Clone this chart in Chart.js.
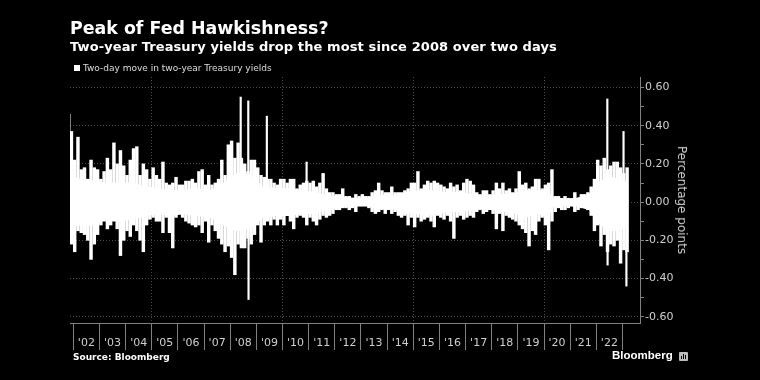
<!DOCTYPE html>
<html><head><meta charset="utf-8">
<script src="https://cdn.jsdelivr.net/npm/chart.js@4.4.1/dist/chart.umd.min.js"></script>
<style>
html,body{margin:0;padding:0;background:#000;}
#wrap{position:relative;width:760px;height:380px;background:#000;overflow:hidden;font-family:"DejaVu Sans",sans-serif;}
canvas{position:absolute;left:0;top:0;}
.t{position:absolute;white-space:nowrap;line-height:1;}
</style></head><body>
<div id="wrap">
<canvas id="c" width="760" height="380"></canvas>
<div class="t" style="left:70px;top:19.6px;font-size:17.4px;font-weight:bold;color:#fff;">Peak of Fed Hawkishness?</div>
<div class="t" style="left:70px;top:39.7px;font-size:13px;letter-spacing:0.1px;font-weight:bold;color:#fff;">Two-year Treasury yields drop the most since 2008 over two days</div>
<div style="position:absolute;left:74px;top:65px;width:6px;height:6px;background:#fff;"></div>
<div class="t" style="left:83px;top:63.5px;font-size:9px;color:#ddd;">Two-day move in two-year Treasury yields</div>
<div class="t" style="left:681.5px;top:200px;font-size:12px;color:#ccc;transform:translate(-50%,-50%) rotate(90deg);">Percentage points</div>
<div class="t" style="left:73px;top:352.9px;font-size:9px;font-weight:bold;color:#fff;">Source: Bloomberg</div>
<div class="t" style="left:612px;top:350px;font-size:11.5px;font-weight:bold;color:#fff;font-family:'Liberation Sans',sans-serif;">Bloomberg</div>
<div style="position:absolute;left:679px;top:352px;width:9px;height:9px;background:#bbb;border-radius:1px;"></div>
<canvas id="icon" width="9" height="9" style="left:679px;top:352px;"></canvas>
</div>
<script>
// Two-day move in two-year Treasury yields (percentage points)
// Outer envelope of the daily series at ~1.5-month steps
const envDates = [2001.875,2002.0,2002.125,2002.25,2002.375,2002.5,2002.625,2002.75,2002.875,
2003.0,2003.125,2003.25,2003.375,2003.5,2003.625,2003.75,2003.875,
2004.0,2004.125,2004.25,2004.375,2004.5,2004.625,2004.75,2004.875,
2005.0,2005.125,2005.25,2005.375,2005.5,2005.625,2005.75,2005.875,
2006.0,2006.125,2006.25,2006.375,2006.5,2006.625,2006.75,2006.875,
2007.0,2007.125,2007.25,2007.375,2007.5,2007.625,2007.75,2007.875,
2008.0,2008.125,2008.25,2008.375,2008.5,2008.625,2008.75,2008.875,
2009.0,2009.125,2009.25,2009.375,2009.5,2009.625,2009.75,2009.875,
2010.0,2010.125,2010.25,2010.375,2010.5,2010.625,2010.75,2010.875,
2011.0,2011.125,2011.25,2011.375,2011.5,2011.625,2011.75,2011.875,
2012.0,2012.125,2012.25,2012.375,2012.5,2012.625,2012.75,2012.875,
2013.0,2013.125,2013.25,2013.375,2013.5,2013.625,2013.75,2013.875,
2014.0,2014.125,2014.25,2014.375,2014.5,2014.625,2014.75,2014.875,
2015.0,2015.125,2015.25,2015.375,2015.5,2015.625,2015.75,2015.875,
2016.0,2016.125,2016.25,2016.375,2016.5,2016.625,2016.75,2016.875,
2017.0,2017.125,2017.25,2017.375,2017.5,2017.625,2017.75,2017.875,
2018.0,2018.125,2018.25,2018.375,2018.5,2018.625,2018.75,2018.875,
2019.0,2019.125,2019.25,2019.375,2019.5,2019.625,2019.75,2019.875,
2020.0,2020.125,2020.25,2020.375,2020.5,2020.625,2020.75,2020.875,
2021.0,2021.125,2021.25,2021.375,2021.5,2021.625,2021.75,2021.875,
2022.0,2022.125,2022.25,2022.375,2022.5,2022.625,2022.75,2022.875,
2023.0,2023.125];
const envHigh = [0.37,0.22,0.34,0.17,0.18,0.12,0.22,0.18,0.17,
0.12,0.16,0.23,0.17,0.31,0.20,0.27,0.19,
0.14,0.22,0.28,0.29,0.14,0.20,0.17,0.12,
0.18,0.14,0.12,0.21,0.10,0.09,0.10,0.13,
0.09,0.09,0.11,0.11,0.12,0.10,0.16,0.17,
0.09,0.14,0.09,0.10,0.12,0.22,0.14,0.30,
0.32,0.23,0.31,0.23,0.20,0.16,0.22,0.22,
0.18,0.14,0.13,0.12,0.12,0.10,0.09,0.12,
0.12,0.10,0.12,0.12,0.07,0.09,0.10,0.11,
0.10,0.11,0.08,0.10,0.15,0.07,0.05,0.05,
0.04,0.04,0.07,0.03,0.03,0.02,0.04,0.03,
0.04,0.03,0.03,0.05,0.06,0.10,0.06,0.05,
0.05,0.08,0.05,0.05,0.05,0.06,0.07,0.10,
0.10,0.16,0.07,0.09,0.11,0.10,0.11,0.10,
0.09,0.08,0.07,0.10,0.08,0.09,0.06,0.10,
0.12,0.11,0.09,0.05,0.04,0.06,0.06,0.04,
0.06,0.10,0.07,0.10,0.06,0.07,0.05,0.07,
0.16,0.09,0.10,0.07,0.08,0.12,0.12,0.07,
0.09,0.10,0.17,0.03,0.03,0.02,0.03,0.02,
0.01,0.05,0.02,0.04,0.04,0.05,0.08,0.12,
0.22,0.19,0.23,0.17,0.19,0.21,0.21,0.18,
0.15,0.18];
const envLow = [-0.22,-0.26,-0.15,-0.16,-0.17,-0.20,-0.30,-0.22,-0.17,
-0.12,-0.10,-0.14,-0.12,-0.10,-0.14,-0.28,-0.20,
-0.15,-0.18,-0.12,-0.15,-0.20,-0.26,-0.12,-0.09,
-0.08,-0.10,-0.10,-0.16,-0.08,-0.16,-0.24,-0.08,
-0.05,-0.08,-0.10,-0.11,-0.12,-0.13,-0.12,-0.16,
-0.10,-0.21,-0.12,-0.15,-0.19,-0.22,-0.26,-0.23,
-0.29,-0.38,-0.22,-0.24,-0.24,-0.19,-0.22,-0.17,
-0.12,-0.21,-0.12,-0.10,-0.12,-0.09,-0.12,-0.09,
-0.12,-0.05,-0.10,-0.14,-0.08,-0.07,-0.08,-0.12,
-0.08,-0.10,-0.12,-0.09,-0.07,-0.08,-0.07,-0.06,
-0.04,-0.04,-0.03,-0.03,-0.04,-0.03,-0.05,-0.02,
-0.02,-0.02,-0.03,-0.05,-0.06,-0.05,-0.04,-0.06,
-0.04,-0.06,-0.05,-0.07,-0.08,-0.07,-0.12,-0.08,
-0.13,-0.08,-0.10,-0.09,-0.08,-0.10,-0.13,-0.07,
-0.08,-0.09,-0.07,-0.10,-0.19,-0.08,-0.07,-0.09,
-0.08,-0.07,-0.08,-0.05,-0.04,-0.06,-0.05,-0.04,
-0.06,-0.14,-0.06,-0.15,-0.07,-0.08,-0.09,-0.10,
-0.12,-0.14,-0.16,-0.23,-0.15,-0.17,-0.10,-0.08,
-0.12,-0.25,-0.10,-0.05,-0.03,-0.04,-0.04,-0.03,
-0.02,-0.05,-0.04,-0.03,-0.03,-0.04,-0.07,-0.15,
-0.12,-0.23,-0.17,-0.26,-0.22,-0.23,-0.20,-0.32,
-0.25,-0.26];
// Dense core of the series (where nearly every day lies)
const coreDates = [2001.875,2002.25,2002.75,2003.25,2003.75,2004.25,2004.75,2005.25,2005.75,2006.25,2006.75,
2007.25,2007.75,2008.25,2008.75,2009.25,2009.75,2010.25,2010.75,2011.25,2011.75,2012.25,2012.75,
2013.25,2013.75,2014.25,2014.75,2015.25,2015.75,2016.25,2016.75,2017.25,2017.75,2018.25,2018.75,
2019.25,2019.75,2020.125,2020.375,2020.75,2021.25,2021.75,2022.0,2022.5,2022.875,2023.2];
const coreHigh = [0.13,0.12,0.11,0.10,0.10,0.10,0.08,0.07,0.06,0.06,0.07,
0.06,0.10,0.15,0.14,0.08,0.07,0.07,0.06,0.05,0.03,0.025,0.02,
0.02,0.035,0.035,0.05,0.06,0.06,0.05,0.05,0.04,0.03,0.04,0.04,
0.06,0.06,0.06,0.02,0.015,0.02,0.04,0.10,0.13,0.12,0.10];
const coreLow = [-0.13,-0.12,-0.12,-0.09,-0.10,-0.09,-0.07,-0.06,-0.07,-0.06,-0.07,
-0.08,-0.12,-0.15,-0.14,-0.08,-0.07,-0.07,-0.06,-0.06,-0.04,-0.025,-0.02,
-0.02,-0.035,-0.035,-0.06,-0.06,-0.07,-0.05,-0.05,-0.04,-0.03,-0.05,-0.05,
-0.08,-0.06,-0.08,-0.02,-0.02,-0.02,-0.04,-0.10,-0.15,-0.15,-0.12];
// Isolated large two-day moves
const spikeDates  = [2001.88, 2008.43, 2008.72, 2008.73, 2009.43, 2010.95, 2022.45, 2022.46, 2023.07, 2023.18];
const spikeValues = [0.46,    0.55,    0.53,    -0.51,   0.45,    0.21,    0.54,    -0.33,   0.37,    -0.44];
// Axis ticks
const xTickValues = [2002,2002.5,2003,2003.5,2004,2004.5,2005,2005.5,2006,2006.5,2007,2007.5,2008,2008.5,2009,2009.5,2010,2010.5,2011,2011.5,2012,2012.5,2013,2013.5,2014,2014.5,2015,2015.5,2016,2016.5,2017,2017.5,2018,2018.5,2019,2019.5,2020,2020.5,2021,2021.5,2022,2022.5,2023];
const yearLabels = ["'02","'03","'04","'05","'06","'07","'08","'09","'10","'11","'12","'13","'14","'15","'16","'17","'18","'19","'20","'21","'22"];
const yTickValues = [-0.6,-0.5,-0.4,-0.3,-0.2,-0.1,0,0.1,0.2,0.3,0.4,0.5,0.6];

const isInt = v => Math.abs(v - Math.round(v)) < 1e-6;
const isMajorY = v => Math.round(Math.abs(v) * 10) % 2 === 0;

const ctx = document.getElementById('c').getContext('2d');
new Chart(ctx, {
  type: 'line',
  data: {
    datasets: [
      {
        data: coreDates.map((d, i) => ({x: d, y: coreHigh[i]})),
        borderColor: '#fff', backgroundColor: '#fff',
        borderWidth: 1, pointRadius: 0, fill: '+1', order: 3
      },
      {
        data: coreDates.map((d, i) => ({x: d, y: coreLow[i]})),
        borderColor: '#fff', backgroundColor: '#fff',
        borderWidth: 1, pointRadius: 0, fill: false, order: 3
      },
      {
        type: 'bar',
        data: envDates.map((d, i) => ({x: d, y: [envLow[i], envHigh[i]]})),
        backgroundColor: '#fff', borderWidth: 0, barThickness: 2.8, order: 2
      },
      {
        type: 'bar',
        data: spikeDates.map((d, i) => ({x: d, y: [0, spikeValues[i]]})),
        backgroundColor: '#fff', borderWidth: 0, barThickness: 1.5, order: 1
      }
    ]
  },
  options: {
    responsive: false, animation: false, devicePixelRatio: 1,
    layout: {padding: {left: 70, top: 77, right: 0, bottom: 0}},
    plugins: {legend: {display: false}, tooltip: {enabled: false}, title: {display: false}},
    scales: {
      x: {
        type: 'linear', position: 'bottom', min: 2001.874, max: 2023.671, offset: false,
        afterBuildTicks: s => { s.ticks = xTickValues.map(v => ({value: v})); },
        afterFit: s => { s.height = 57; },
        grid: {
          offset: false, drawOnChartArea: true, lineWidth: 1, tickLength: 27, tickBorderDash: [],
          color: c => (c.tick && isInt(c.tick.value) && Math.round(c.tick.value) % 5 === 0) ? '#4a4a4a' : 'rgba(0,0,0,0)',
          tickColor: c => (c.tick && isInt(c.tick.value)) ? '#808080' : 'rgba(0,0,0,0)'
        },
        border: {display: true, color: '#808080', dash: [1, 2]},
        ticks: {
          autoSkip: false, maxRotation: 0, minRotation: 0, padding: -13, color: '#cfcfcf',
          font: {family: 'DejaVu Sans', size: 11},
          callback: v => isInt(v) ? '' : yearLabels[Math.floor(v) - 2002]
        }
      },
      y: {
        type: 'linear', position: 'right', min: -0.633, max: 0.655,
        afterBuildTicks: s => { s.ticks = yTickValues.map(v => ({value: v})); },
        afterFit: s => { s.width = 120; },
        grid: {
          lineWidth: 1, tickLength: 4, tickBorderDash: [],
          color: c => (c.tick && isMajorY(c.tick.value)) ? '#4a4a4a' : 'rgba(0,0,0,0)',
          tickColor: '#808080'
        },
        border: {display: true, color: '#808080', dash: [1, 2]},
        ticks: {
          padding: 1, color: '#cfcfcf', font: {family: 'DejaVu Sans', size: 11},
          callback: v => isMajorY(v) ? v.toFixed(2) : ''
        }
      }
    }
  }
});

// small Bloomberg chart glyph
const ic = document.getElementById('icon').getContext('2d');
ic.fillStyle = '#000';
ic.fillRect(2, 4, 1, 3); ic.fillRect(4, 2, 1, 5); ic.fillRect(6, 3, 1, 4);
</script>
</body></html>
